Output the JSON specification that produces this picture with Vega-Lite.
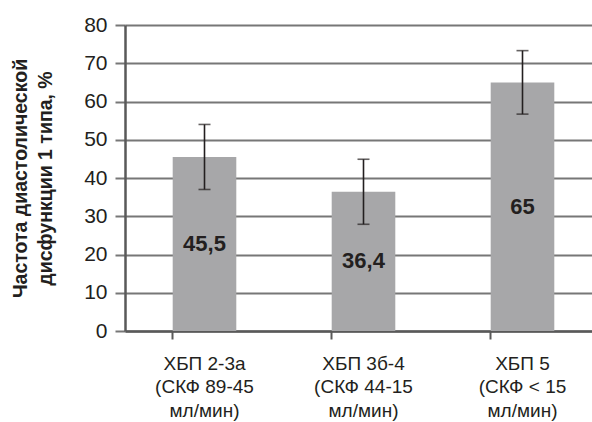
{
  "$schema": "https://vega.github.io/schema/vega-lite/v6.json",
  "autosize": "none",
  "padding": {"left": 125, "top": 25, "right": 0, "bottom": 91},
  "width": 477,
  "height": 306,
  "background": "white",
  "config": {
    "view": {"stroke": null},
    "font": "Liberation Sans",
    "axis": {"labelFont": "Liberation Sans", "titleFont": "Liberation Sans", "labelColor": "#231f20", "titleColor": "#231f20"}
  },
  "data": {
    "values": [
      {"group": "ХБП 2-3а|(СКФ 89-45|мл/мин)", "value": 45.5, "low": 37.0, "high": 54.0, "label": "45,5"},
      {"group": "ХБП 3б-4|(СКФ 44-15|мл/мин)", "value": 36.4, "low": 27.9, "high": 44.9, "label": "36,4"},
      {"group": "ХБП 5|(СКФ < 15|мл/мин)", "value": 65, "low": 56.7, "high": 73.3, "label": "65"}
    ]
  },
  "resolve": {"scale": {"y": "independent"}, "axis": {"x": "independent", "y": "independent"}},
  "layer": [
    {
      "encoding": {
        "x": {
          "field": "group", "type": "nominal", "sort": null,
          "scale": {"paddingInner": 0.6, "paddingOuter": 0.3},
          "axis": {
            "orient": "bottom",
            "title": null, "labelAngle": 0, "labelFontSize": 19, "labelLineHeight": 23.5,
            "labelExpr": "split(datum.label, '|')", "ticks": false, "labelPadding": 23,
            "domainColor": "#595959", "domainWidth": 2.5, "labelBaseline": "top"
          }
        },
        "y": {
          "field": "value", "type": "quantitative",
          "scale": {"domain": [0, 80]},
          "axis": {
            "values": [0, 10, 20, 30, 40, 50, 60, 70, 80],
            "labelOverlap": false,
            "title": ["Частота диастолической", "дисфункции 1 типа, %"],
            "titleFontSize": 19.5, "titleFontWeight": "bold", "titlePadding": 28, "titleLineHeight": 25,
            "labelFontSize": 21, "labelPadding": 8,
            "grid": true, "gridColor": "#777777", "gridWidth": 2,
            "tickColor": "#777777", "tickSize": 10, "tickWidth": 2,
            "domainColor": "#595959", "domainWidth": 2.5
          }
        }
      },
      "layer": [
        {"mark": {"type": "bar", "color": "#a7a7a9"}},
        {
          "mark": {"type": "rule", "color": "#231f20", "strokeWidth": 1.6},
          "encoding": {
            "y": {"field": "low", "type": "quantitative"},
            "y2": {"field": "high"}
          }
        },
        {
          "mark": {"type": "tick", "color": "#231f20", "size": 12, "thickness": 1.6, "orient": "horizontal"},
          "encoding": {"y": {"field": "low", "type": "quantitative"}}
        },
        {
          "mark": {"type": "tick", "color": "#231f20", "size": 12, "thickness": 1.6, "orient": "horizontal"},
          "encoding": {"y": {"field": "high", "type": "quantitative"}}
        }
      ]
    },
    {
      "mark": {"type": "text", "fontSize": 22, "fontWeight": "bold", "color": "#231f20", "baseline": "middle"},
      "encoding": {
        "x": {
          "field": "group", "type": "nominal", "sort": null,
          "axis": {"orient": "bottom", "title": null, "labels": false, "ticks": true, "bandPosition": 0, "tickSize": 8, "tickColor": "#595959", "tickWidth": 2, "domain": false}
        },
        "y": {"field": "value", "type": "quantitative", "scale": {"domain": [0, 160]}, "axis": null},
        "text": {"field": "label"}
      }
    }
  ]
}
